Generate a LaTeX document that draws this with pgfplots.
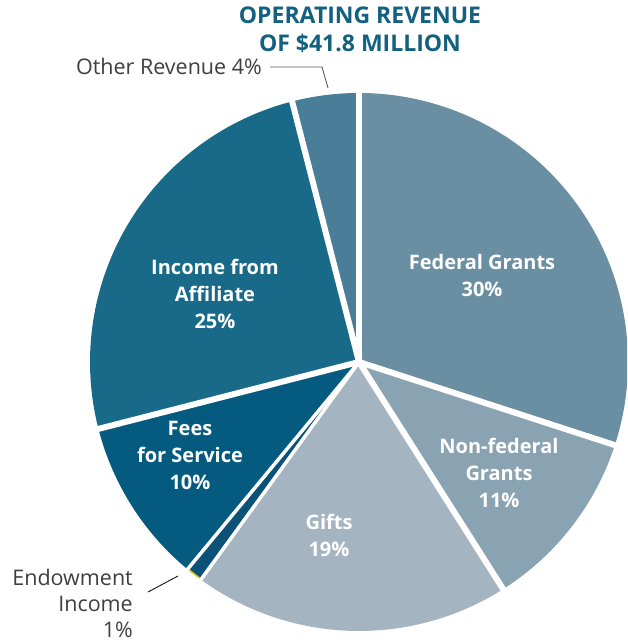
\documentclass[border=0pt]{standalone}
\usepackage{fontspec}
\setmainfont{Open Sans}
\usepackage{pgfplots}
\pgfplotsset{compat=1.18}

\definecolor{fed}{HTML}{6A8FA3}
\definecolor{nonfed}{HTML}{8AA3B3}
\definecolor{gifts}{HTML}{A5B4C1}
\definecolor{endow}{HTML}{0B5178}
\definecolor{fees}{HTML}{055B7F}
\definecolor{affil}{HTML}{186A88}
\definecolor{other}{HTML}{4A7D97}
\definecolor{titleblue}{HTML}{13607F}
\definecolor{txtgray}{HTML}{3F3F3F}

% pie centre and radius, in axis units (1 unit = 1pt)
\newcommand{\cx}{359}
\newcommand{\cy}{280}
\newcommand{\rad}{269}
% slice from cumulative percent #1 to #2, clockwise from 12 o'clock
\newcommand{\slice}[3]{%
  \fill[#3] (axis cs:\cx,\cy) -- ++({90-3.6*#1}:\rad pt)
    arc[start angle={90-3.6*#1}, end angle={90-3.6*#2}, radius=\rad pt] -- cycle;}
% white separator at cumulative percent #2, width #1
\newcommand{\gap}[2][6pt]{%
  \draw[white, line width=#1] (axis cs:\cx,\cy) -- ++({90-3.6*#2}:\rad pt+8pt);}

\begin{document}
\begin{tikzpicture}
\begin{axis}[
    x=1pt, y=1pt,
    scale only axis,
    xmin=0, xmax=627,
    ymin=0, ymax=642,
    hide axis,
]
\path (axis cs:0,0) rectangle (axis cs:627,642);

% revenue shares, percent: 30 11 19 1 10 25 4
\slice{0}{30}{fed}
\slice{30}{41}{nonfed}
\slice{41}{60}{gifts}
\slice{60}{61}{endow}
\slice{61}{71}{fees}
\slice{71}{96}{affil}
\slice{96}{100}{other}

\draw[yellow!70!orange, line width=1.2pt]
  (axis cs:\cx,\cy) ++({90-3.6*60.05}:\rad pt-0.6pt)
  arc[start angle={90-3.6*60.05}, end angle={90-3.6*61.05}, radius=\rad pt-0.6pt];

\gap{0}\gap{30}\gap{41}\gap{71}\gap{96}
\gap[3.5pt]{60}\gap[3.5pt]{61}

\begin{scope}[font=\fontsize{20}{27}\selectfont\bfseries, text=white, align=center]
\node at (axis cs:482,366) {Federal Grants\\30\%};
\node at (axis cs:499,169) {Non-federal\\Grants\\11\%};
\node at (axis cs:329,107) {Gifts\\19\%};
\node at (axis cs:190,187) {Fees\\for Service\\10\%};
\node at (axis cs:215,348) {Income from\\Affiliate\\25\%};
\end{scope}

\node[anchor=east, text=txtgray, font=\fontsize{21.5}{26}\selectfont, inner sep=0pt]
  at (axis cs:262,576) {Other Revenue 4\%};
\node[anchor=east, text=txtgray, font=\fontsize{21.5}{26}\selectfont, align=right, inner sep=0pt]
  at (axis cs:133,39) {Endowment\\Income\\1\%};

\draw[gray!70!black, line width=0.9pt] (axis cs:270,575) -- (axis cs:322,575) -- (axis cs:328,554);
\draw[black, line width=0.8pt] (axis cs:148,50) -- (axis cs:178,66);

\node[text=titleblue, font=\fontsize{23}{28}\selectfont\bfseries, align=center]
  at (axis cs:360,612) {OPERATING REVENUE\\OF \$41.8 MILLION};
\end{axis}
\end{tikzpicture}
\end{document}
